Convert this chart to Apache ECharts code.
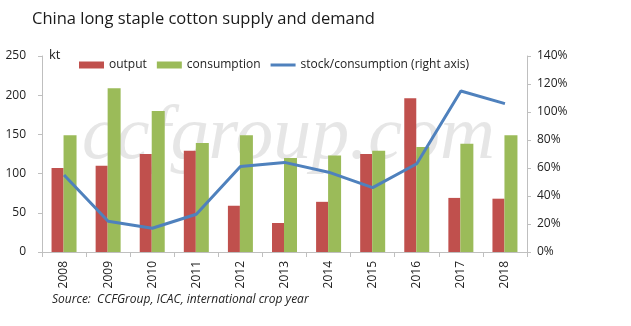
<!DOCTYPE html>
<html>
<head>
<meta charset="utf-8">
<script src="https://cdn.jsdelivr.net/npm/echarts@6/dist/echarts.min.js"></script>
<style>
html,body{margin:0;padding:0;background:#fff;}
#chart{width:631px;height:326px;}
</style>
</head>
<body>
<div id="chart"></div>
<script>
// China long staple cotton, international crop year
const years = ['2008','2009','2010','2011','2012','2013','2014','2015','2016','2017','2018'];
const output = [107, 110, 125, 129, 59, 37, 64, 125, 196, 69, 68];          // kt
const consumption = [149, 209, 180, 139, 149, 120, 123, 129, 134, 138, 149]; // kt
const stockRatio = [55, 22, 17, 27, 61, 64, 57, 46, 63, 115, 106];          // %
const leftTicks = [0, 50, 100, 150, 200, 250];
const rightTicks = [0, 20, 40, 60, 80, 100, 120, 140];

const font = '"Open Sans", "Noto Sans", sans-serif';
const axisGrey = '#bfbfbf';

const chart = echarts.init(document.getElementById('chart'));
chart.setOption({
  animation: false,
  backgroundColor: '#fff',
  textStyle: { fontFamily: font },
  title: {
    text: 'China long staple cotton supply and demand',
    left: 27, top: 6,
    textStyle: { fontFamily: font, fontSize: 16.5, fontWeight: 'normal', color: '#1a1a1a' }
  },
  graphic: [
    { type: 'text', left: 82, top: 100, z: 0, silent: true,
      style: { text: 'ccfgroup.com', fill: 'rgba(200,200,200,0.45)',
               font: 'italic 76px "Liberation Serif", serif' } },
    { type: 'text', left: 49, top: 49,
      style: { text: 'kt', fill: '#222', font: '13px ' + font } },
    { type: 'text', left: 52, top: 294,
      style: { text: 'Source:  CCFGroup, ICAC, international crop year', fill: '#222',
               font: 'italic 12px ' + font } }
  ],
  legend: {
    top: 54, left: 74, itemGap: 10, itemWidth: 25, itemHeight: 7,
    textStyle: { fontFamily: font, fontSize: 12, color: '#222' },
    data: [
      { name: 'output', icon: 'rect' },
      { name: 'consumption', icon: 'rect' },
      { name: 'stock/consumption (right axis)', icon: 'path://M0,3 L25,3 L25,6 L0,6 Z',
        itemStyle: { color: '#4F81BD' } }
    ]
  },
  grid: { left: 42, right: 104, top: 56, bottom: 74 },
  xAxis: {
    type: 'category', data: years,
    axisLine: { lineStyle: { color: axisGrey } },
    axisTick: { show: true, alignWithLabel: false, length: 5, lineStyle: { color: axisGrey } },
    axisLabel: { rotate: 90, color: '#222', fontSize: 12, margin: 9, fontFamily: font }
  },
  yAxis: [
    { type: 'value', min: 0, max: 250, interval: 50,
      axisLine: { show: true, lineStyle: { color: axisGrey } },
      axisTick: { show: true, length: 4, lineStyle: { color: axisGrey } },
      splitLine: { show: false },
      axisLabel: { color: '#222', fontSize: 12, margin: 16, fontFamily: font,
                   formatter: v => leftTicks.includes(v) ? String(v) : '' } },
    { type: 'value', min: 0, max: 140, interval: 20, position: 'right',
      axisLine: { show: true, lineStyle: { color: axisGrey } },
      axisTick: { show: true, inside: false, length: 4, lineStyle: { color: axisGrey } },
      splitLine: { show: false },
      axisLabel: { color: '#222', fontSize: 12, margin: 10, fontFamily: font,
                   formatter: v => rightTicks.includes(v) ? v + '%' : '' } }
  ],
  series: [
    { name: 'output', type: 'bar', data: output, barWidth: 12, barGap: '0%',
      itemStyle: { color: '#C0504D' }, z: 2 },
    { name: 'consumption', type: 'bar', data: consumption, barWidth: 13,
      itemStyle: { color: '#9BBB59' }, z: 2 },
    { name: 'stock/consumption (right axis)', type: 'line', yAxisIndex: 1, data: stockRatio,
      symbol: 'none', lineStyle: { color: '#4F81BD', width: 3 }, itemStyle: { color: '#4F81BD' }, z: 3 }
  ]
});
</script>
</body>
</html>
